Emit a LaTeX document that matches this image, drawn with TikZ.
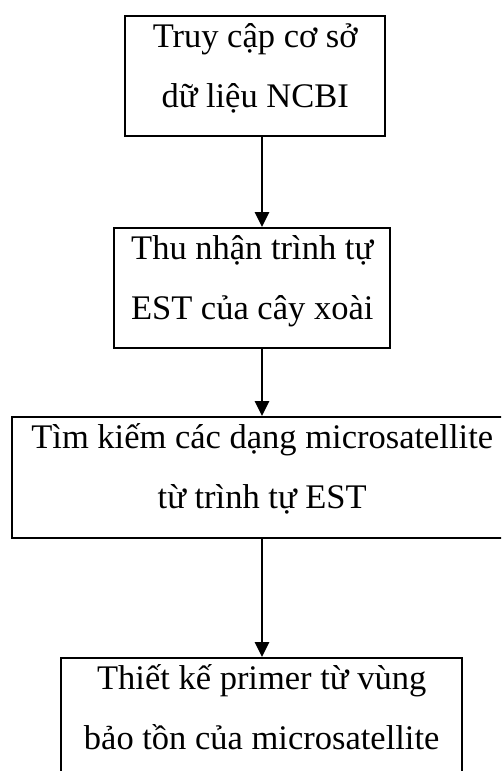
\documentclass[tikz,border=0pt]{standalone}
\usepackage{fontspec}
\setmainfont{Liberation Serif}
\usetikzlibrary{arrows.meta}
\begin{document}
\begin{tikzpicture}[x=1pt,y=1pt,
  stepbox/.style={draw=black, line width=2.4pt, rectangle, inner sep=0pt, anchor=north west},
  steptext/.style={inner sep=0pt, anchor=base, align=center,
    font=\fontsize{34.5}{60}\selectfont},
  flow/.style={draw=black, line width=2.8pt,
    -{Triangle[width=14pt,length=15pt]}}]
  \useasboundingbox (0,0) rectangle (501,-771);
  \clip (0,0) rectangle (501,-771);
  \fill[white] (0,0) rectangle (501,-771);

  % step boxes
  \node[stepbox, minimum width=260pt, minimum height=120pt] (b1) at (124,-15) {};
  \node[stepbox, minimum width=276pt, minimum height=120pt] (b2) at (113,-227) {};
  \node[stepbox, minimum width=500pt, minimum height=121pt] (b3) at (11,-416) {};
  \node[stepbox, minimum width=401pt, minimum height=125pt] (b4) at (60,-657) {};

  % step labels; the base anchor sits on the second line, 92pt below each box top
  \node[steptext] (t1) at ([yshift=-92pt]b1.north) {Truy cập cơ sở\\dữ liệu NCBI};
  \node[steptext] (t2) at ([yshift=-92pt]b2.north) {Thu nhận trình tự\\EST của cây xoài};
  \node[steptext] (t3) at ([yshift=-92pt]b3.north) {Tìm kiếm các dạng microsatellite\\từ trình tự EST};
  \node[steptext] (t4) at ([yshift=-92pt]b4.north) {Thiết kế primer từ vùng\\bảo tồn của microsatellite};

  % connectors share one vertical axis
  \coordinate (axis) at (262,0);
  \draw[flow] (b1.south -| axis) -- (b2.north -| axis);
  \draw[flow] (b2.south -| axis) -- (b3.north -| axis);
  \draw[flow] (b3.south -| axis) -- (b4.north -| axis);
\end{tikzpicture}
\end{document}
